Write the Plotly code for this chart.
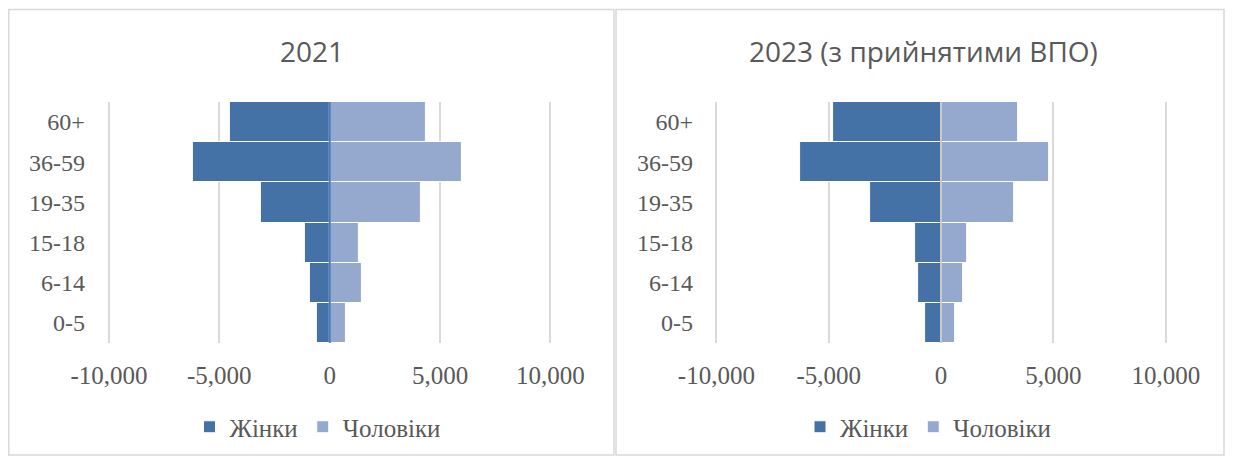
import plotly.graph_objects as go

# вікові групи знизу вгору
vikovi_grupy = ["0-5", "6-14", "15-18", "19-35", "36-59", "60+"]

zhinky_2021 = [580, 890, 1130, 3100, 6210, 4520]
choloviky_2021 = [720, 1450, 1300, 4140, 6000, 4370]

zhinky_2023 = [700, 1020, 1170, 3140, 6270, 4790]
choloviky_2023 = [610, 980, 1160, 3260, 4800, 3450]

tick_vals = [-10000, -5000, 0, 5000, 10000]
tick_text = ["-10,000", "-5,000", "0", "5,000", "10,000"]

titles = ["2021", "2023 (з прийнятими ВПО)"]
series_names = ["Жінки", "Чоловіки"]

DARK = "#4472A6"
LIGHT = "#95A9CF"
TEXT = "#595959"
GRID = "#D9D9D9"
SERIF = "Liberation Serif"
SANS = "Open Sans"

# сторінка має відступ body 8px, тому фігура менша за вікно (без прокрутки)
OFF = 8
W, H = 1233 - 2 * OFF, 464 - 2 * OFF


def px_x(v):
    return (v - OFF) / W


def px_y(v):
    return 1 - (v - OFF) / H


# розміщення двох панелей у пікселях сторінки; вісь ширша за ±10 000, щоб крайні лінії сітки було видно
X_RANGE = 10500
panels = [
    dict(plot_x=(97.9, 561.5), standoff=12, title_x=312, legend_x=317.5,
         box=(8.8, 614), zero="#4A7DB9"),
    dict(plot_x=(705.1, 1177.0), standoff=11, title_x=923, legend_x=928,
         box=(616, 1224), zero="#C8C8C8"),
]

data = [(zhinky_2021, choloviky_2021), (zhinky_2023, choloviky_2023)]

fig = go.Figure()
layout = {}
shapes = []
annotations = []

for i, ((zh, ch), p) in enumerate(zip(data, panels)):
    suffix = "" if i == 0 else str(i + 1)
    legend_name = "legend" + suffix

    fig.add_trace(go.Bar(
        y=vikovi_grupy, x=[-v for v in zh], orientation="h",
        name=series_names[0], customdata=zh,
        marker=dict(color=DARK, line=dict(color="white", width=1)),
        xaxis="x" + suffix, yaxis="y" + suffix, legend=legend_name,
        hovertemplate="%{y}<br>Жінки: %{customdata:,}<extra></extra>"
    ))
    fig.add_trace(go.Bar(
        y=vikovi_grupy, x=ch, orientation="h",
        name=series_names[1], customdata=ch,
        marker=dict(color=LIGHT, line=dict(color="white", width=1)),
        xaxis="x" + suffix, yaxis="y" + suffix, legend=legend_name,
        hovertemplate="%{y}<br>Чоловіки: %{customdata:,}<extra></extra>"
    ))

    layout["xaxis" + suffix] = dict(
        domain=[px_x(p["plot_x"][0]), px_x(p["plot_x"][1])],
        range=[-X_RANGE, X_RANGE], anchor="y" + suffix, automargin=False,
        tickvals=tick_vals, ticktext=tick_text,
        tickfont=dict(family=SERIF, size=25, color=TEXT),
        showgrid=True, gridcolor=GRID, gridwidth=1.5,
        zeroline=False, showline=False, ticks="", ticklabelstandoff=15,
        fixedrange=True
    )
    layout["yaxis" + suffix] = dict(
        domain=[px_y(343), px_y(102)], anchor="x" + suffix, automargin=False,
        type="category", showgrid=False, zeroline=False, showline=False,
        ticks="", tickfont=dict(family=SERIF, size=24, color=TEXT),
        ticklabelstandoff=p["standoff"], fixedrange=True
    )
    layout[legend_name] = dict(
        orientation="h", x=px_x(p["legend_x"]), y=px_y(427),
        xanchor="center", yanchor="middle",
        font=dict(family=SERIF, size=25, color=TEXT),
        bgcolor="rgba(0,0,0,0)", itemwidth=30, traceorder="normal"
    )

    # лінія нуля поверх стовпців
    shapes.append(dict(
        type="line", xref="x" + suffix, yref="paper",
        x0=0, x1=0, y0=px_y(343), y1=px_y(102), layer="above",
        line=dict(color=p["zero"], width=2)
    ))
    # рамка панелі
    shapes.append(dict(
        type="rect", xref="paper", yref="paper", layer="below",
        x0=px_x(p["box"][0]), x1=px_x(p["box"][1]), y0=px_y(455), y1=px_y(9.5),
        line=dict(color=GRID, width=1.5)
    ))
    annotations.append(dict(
        text=titles[i], xref="paper", yref="paper",
        x=px_x(p["title_x"]), y=px_y(51), xanchor="center", yanchor="middle",
        showarrow=False, font=dict(family=SANS, size=28, color=TEXT)
    ))

fig.update_layout(
    **layout,
    template="none",
    barmode="relative", bargap=0,
    shapes=shapes, annotations=annotations,
    width=W, height=H, margin=dict(l=0, r=0, t=0, b=0, autoexpand=False),
    paper_bgcolor="white", plot_bgcolor="white",
    hoverlabel=dict(font_family=SERIF)
)

fig.write_html("out.html")
